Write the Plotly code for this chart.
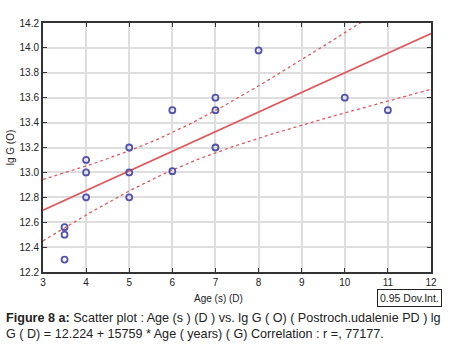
import numpy as np
import plotly.graph_objects as go

age = [3.5, 3.5, 3.5, 4, 4, 4, 5, 5, 5, 6, 6, 7, 7, 7, 8, 10, 11]
lg_g = [12.30, 12.50, 12.56, 12.80, 13.00, 13.10, 12.80, 13.00, 13.20,
        13.01, 13.50, 13.20, 13.50, 13.60, 13.98, 13.60, 13.50]
intercept = 12.224
slope = 0.15759
x_ticks = [3, 4, 5, 6, 7, 8, 9, 10, 11, 12]
y_ticks = [12.2, 12.4, 12.6, 12.8, 13.0, 13.2, 13.4, 13.6, 13.8, 14.0, 14.2]

x = np.array(age)
y = np.array(lg_g)
n = len(x)
xs = np.linspace(3, 12, 200)
fit = intercept + slope * xs
resid = y - (intercept + slope * x)
s = np.sqrt(np.sum(resid ** 2) / (n - 2))
sxx = np.sum((x - x.mean()) ** 2)
t = 2.131
half = t * s * np.sqrt(1 / n + (xs - x.mean()) ** 2 / sxx)

red = "#e0585c"
fig = go.Figure()
fig.add_trace(go.Scatter(x=xs, y=fit + half, mode="lines",
                         line=dict(color=red, width=1.3, dash="dot"), hoverinfo="skip"))
fig.add_trace(go.Scatter(x=xs, y=fit - half, mode="lines",
                         line=dict(color=red, width=1.3, dash="dot"), hoverinfo="skip"))
fig.add_trace(go.Scatter(x=xs, y=fit, mode="lines",
                         line=dict(color=red, width=1.6)))
fig.add_trace(go.Scatter(x=age, y=lg_g, mode="markers",
                         marker=dict(symbol="circle-open", size=6, color="#5252ac",
                                     line=dict(width=1.8, color="#5252ac"))))

axis_common = dict(showgrid=True, gridcolor="#dedede", gridwidth=2,
                   showline=True, linecolor="#333333", linewidth=2, mirror="ticks",
                   ticks="inside", ticklen=4, tickcolor="#333333", zeroline=False,
                   tickfont=dict(family="Liberation Sans, Arial", size=10, color="#222"))
fig.update_xaxes(range=[3, 12], tickvals=x_ticks, ticktext=[str(v) for v in x_ticks],
                 **axis_common)
fig.update_yaxes(range=[12.2, 14.2], tickvals=y_ticks,
                 ticktext=[f"{v:.1f}" for v in y_ticks], **axis_common)

W, H = 449, 355
l, r, t_, b = 43, 15, 23, 83
pw, ph = W - l - r, H - t_ - b
def px(xp):
    return (xp - l) / pw
def py(yp):
    return (H - b - yp) / ph

fig.update_layout(
    width=W, height=H, showlegend=False,
    margin=dict(l=l, r=r, t=t_, b=b),
    paper_bgcolor="white", plot_bgcolor="white",
    font=dict(family="Liberation Sans, Arial", size=10, color="#222"),
    annotations=[
        dict(text="lg G (O)", x=px(10), y=py(147), xref="paper", yref="paper",
             xanchor="center", yanchor="middle", textangle=-90, showarrow=False,
             font=dict(size=10)),
        dict(text="Age (s) (D)", x=px(220), y=py(298), xref="paper", yref="paper",
             xanchor="center", yanchor="middle", showarrow=False, font=dict(size=10)),
        dict(text="0.95 Dov.Int.", x=px(445), y=py(298), xref="paper", yref="paper",
             showarrow=False, font=dict(size=10.5), bordercolor="#222", borderwidth=1,
             borderpad=2, xanchor="right", yanchor="middle"),
        dict(text="<b>Figure 8 a:</b> Scatter plot : Age (s ) (D ) vs. lg G ( O) ( Postroch.udalenie PD ) lg<br>"
                  "G ( D) = 12.224 + 15759 * Age ( years) ( G) Correlation : r =, 77177.",
             x=px(4), y=py(309), xref="paper", yref="paper", xanchor="left", yanchor="top",
             align="left", showarrow=False, font=dict(size=12.6, color="#222")),
    ],
)

fig.write_html("out.html", config={"displayModeBar": False},
               post_script="document.body.style.margin='0';")
